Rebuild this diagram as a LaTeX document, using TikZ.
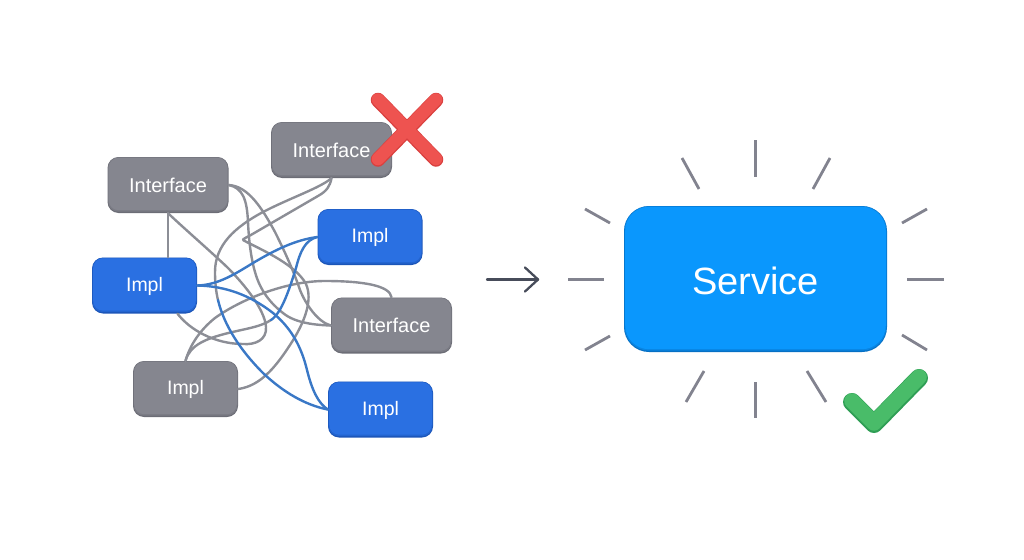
\documentclass[tikz,border=0pt]{standalone}
\usepackage{fontspec}
\setmainfont{Liberation Sans}
\usetikzlibrary{calc}
\definecolor{grayMain}{HTML}{85868F}
\definecolor{grayEdge}{HTML}{6C6D76}
\definecolor{blueMain}{HTML}{2A70E2}
\definecolor{blueEdge}{HTML}{1B55B8}
\definecolor{svcMain}{HTML}{0A97FD}
\definecolor{svcEdge}{HTML}{0670C4}
\definecolor{wireGray}{HTML}{8C8E96}
\definecolor{wireBlue}{HTML}{3A78C6}
\definecolor{rayGray}{HTML}{82838F}
\definecolor{arrowDark}{HTML}{474C5A}
\definecolor{redMain}{HTML}{EE5350}
\definecolor{redEdge}{HTML}{D9403F}
\definecolor{greenMain}{HTML}{49BC69}
\definecolor{greenEdge}{HTML}{2F9E55}
\tikzset{
  solidbox/.style n args={3}{rectangle, rounded corners=#3, inner sep=0pt, fill=#2, text=white,
    path picture={
      \fill[#1!55!#2, rounded corners=#3-0.5pt]
        ($(path picture bounding box.north west)+(0.5,0.3)$) rectangle
        ($(path picture bounding box.south east)+(-0.5,-1.3)$);
      \fill[#1, rounded corners=#3-1pt]
        ($(path picture bounding box.north west)+(1.2,0.8)$) rectangle
        ($(path picture bounding box.south east)+(-1.2,-2.8)$);
    }},
  small/.style={minimum width=105pt, minimum height=56pt, text height=16pt, font=\fontsize{19.5}{20}\selectfont},
  wide/.style={minimum width=121pt, minimum height=56pt, font=\fontsize{20}{20}\selectfont},
  graybox/.style={solidbox={grayMain}{grayEdge}{11pt}},
  bluebox/.style={solidbox={blueMain}{blueEdge}{11pt}},
  svcbox/.style={solidbox={svcMain}{svcEdge}{25pt}, minimum width=263pt, minimum height=146pt, text height=31pt, font=\fontsize{38}{38}\selectfont},
  wire/.style={draw=wireGray, line width=2.4pt, line cap=round, line join=round},
  bwire/.style={draw=wireBlue, line width=2.4pt, line cap=round, line join=round},
  ray/.style={draw=rayGray, line width=2.8pt},
  flow/.style={draw=arrowDark, line width=2.3pt, line cap=round, line join=round},
  markline/.style={line cap=round, line join=round},
}
\begin{document}
\begin{tikzpicture}[x=1pt,y=-1pt]
\useasboundingbox (0,0) rectangle (1024,559);
% nodes
\node[graybox,wide] (ifa) at (168,185) {Interface};
\node[graybox,wide] (ifb) at (331.5,150) {Interface};
\node[graybox,wide] (ifc) at (391.5,325.5) {Interface};
\node[bluebox,small] (ila) at (144.5,285.5) {Impl};
\node[bluebox,small] (ilb) at (370,237) {Impl};
\node[bluebox,small] (ilc) at (380.5,409.5) {Impl};
\node[graybox,small] (ild) at (185.5,389) {Impl};
\node[svcbox] (svc) at (755.5,279) {Service};
\coordinate (mix) at (218,300);
\coordinate (gbA) at (271,320);
\coordinate (turn) at (243,240);
\coordinate (ilaBot) at ($(ila.south)+(33,0)$);
% gray connectors
\draw[wire] (ifa.south) -- (ifa.south |- ila.north);
\draw[wire] (ifa.south) .. controls (187,231) and (209,250) .. (227,267) .. controls (245,285) and (265,310) .. (266,327) .. controls (267,340) and (255,345) .. (243,344) .. controls (215,344) and (190,330) .. (ilaBot);
\draw[wire] (ifa.east) .. controls (243,188) and (247,200) .. (248,222) .. controls (249,245) and (252,262) .. (255,272) .. controls (260,290) and (270,303) .. (283,313) .. controls (295,323) and (315,325) .. (ifc.west);
\draw[wire] (ifa.east) .. controls (248,186) and (262,208) .. (275,232) .. controls (287,256) and (295,275) .. (300,290) .. controls (306,305) and (318,322) .. (ifc.west);
\draw[wire] (ifb.south) .. controls (320,188) and (290,198) .. (263,212) .. controls (235,227) and (215,245) .. (215,272) .. controls (215,282) and (216,292) .. (mix);
\draw[wire] (ifb.south) .. controls (330,186) and (327,191) .. (318,196) -- (250,235.5) .. controls (243,239) and (242,240) .. (turn) .. controls (255,247) and (295,263) .. (306,284) .. controls (313,300) and (305,322) .. (290,345) .. controls (275,368) and (260,386) .. (ild.east);
\draw[wire] (ifc.north) .. controls (390,286) and (365,281) .. (325,281) .. controls (285,281) and (240,300) .. (215,318) .. controls (200,330) and (190,345) .. (ild.north);
\draw[wire] (ild.north) .. controls (190,345) and (205,338) .. (237,331) .. controls (250,328) and (262,326) .. (gbA);
% blue connectors
\draw[bwire] (gbA) .. controls (282,313) and (290,287) .. (296,268) .. controls (300,252) and (305,240) .. (ilb.west);
\draw[bwire] (ila.east) .. controls (218,285) and (235,274) .. (253,263) .. controls (275,250) and (295,240) .. (ilb.west);
\draw[bwire] (ila.east) .. controls (225,286) and (250,295) .. (273,313) .. controls (290,327) and (301,345) .. (307,370) .. controls (312,390) and (318,403) .. (ilc.west);
\draw[bwire] (mix) .. controls (224,325) and (240,350) .. (263,373) .. controls (283,392) and (305,405) .. (ilc.west);
% main arrow
\coordinate (fa) at (487,279.5);
\coordinate (fb) at (538,279.5);
\draw[flow] (fa) -- (fb);
\draw[flow] (525,267.5) -- (fb) -- (525,291.5);
% rays
\foreach \xa/\ya/\xb/\yb in {755.6/140/755.6/177, 682/158/699/189, 830/158/813/189, 585/209/610/223, 927/209/902/223, 568/279.5/604/279.5, 907/279.5/944/279.5, 585/350/610/336, 927/350/902/335, 704/371/686/402, 807/371/826/402, 755.6/382/755.6/418}
  \draw[ray] (\xa,\ya) -- (\xb,\yb);
% red cross
\draw[markline,draw=redEdge,line width=14.5pt] (378,100) -- (436,159.5) (436,100) -- (378,159.5);
\draw[markline,draw=redMain,line width=12.5pt] (378,99.5) -- (436,159) (436,99.5) -- (378,159);
% green check
\draw[markline,draw=greenEdge,line width=18pt] (852,402) -- (874,424) -- (919,378);
\draw[markline,draw=greenMain,line width=15.5pt] (852,401) -- (874,423) -- (919,377);
\end{tikzpicture}
\end{document}
